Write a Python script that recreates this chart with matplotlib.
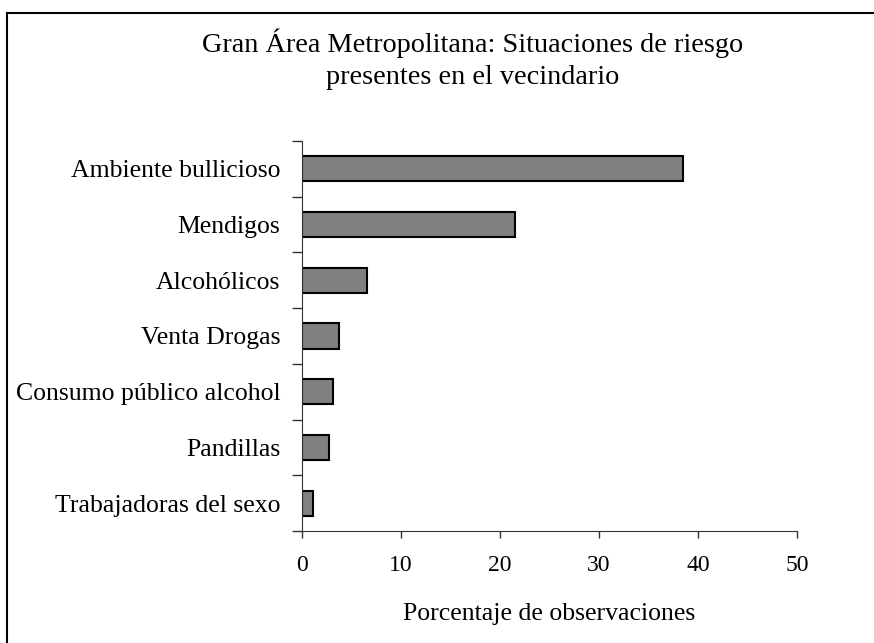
import matplotlib.pyplot as plt
from matplotlib.lines import Line2D

categorias = ["Ambiente bullicioso", "Mendigos", "Alcohólicos", "Venta Drogas",
              "Consumo público alcohol", "Pandillas", "Trabajadoras del sexo"]
porcentajes = [38.5, 21.5, 6.6, 3.7, 3.1, 2.7, 1.1]

plt.rcParams['font.family'] = ['Liberation Serif', 'DejaVu Serif']

fig = plt.figure(figsize=(8.74, 6.43), dpi=100)
ax = fig.add_axes([0.3455, 0.1742, 0.5665, 0.6065])

n = len(categorias)
pos = [n - 1 - i for i in range(n)]
ax.barh(pos, porcentajes, height=0.45, color="#808080", edgecolor="black", linewidth=1.5)

ax.set_xlim(0, 50)
ax.set_ylim(-0.5, n - 0.5)
ax.set_xticks(range(0, 51, 10))
ax.tick_params(axis="x", labelsize=17, length=5, width=1, pad=12.5, color="#333333")

# ticks between categories, labels centered on bars
ax.set_yticks([i - 0.5 for i in range(n + 1)])
ax.set_yticklabels([])
ax.tick_params(axis="y", which="major", length=7, width=1, color="#333333")
ax.set_yticks(pos, minor=True)
ax.set_yticklabels(categorias, minor=True, fontsize=18.5)
ax.tick_params(axis="y", which="minor", length=0, pad=15.5)

ax.spines["top"].set_visible(False)
ax.spines["right"].set_visible(False)
ax.spines["left"].set_color("#333333")
ax.spines["bottom"].set_color("#333333")

ax.set_xlabel("Porcentaje de observaciones", fontsize=18.5, labelpad=19)

fig.text(0.541, 0.932, "Gran Área Metropolitana: Situaciones de riesgo", ha="center",
         va="center", fontsize=20.3)
fig.text(0.541, 0.879, "presentes en el vecindario", ha="center", va="center", fontsize=20.3)

# outer frame (left and top edges)
fig.add_artist(Line2D([0.008, 0.008], [0.0, 0.98], transform=fig.transFigure, color="black", lw=1.5))
fig.add_artist(Line2D([0.008, 1.0], [0.98, 0.98], transform=fig.transFigure, color="black", lw=1.5))

fig.savefig("out.png", dpi=100)
